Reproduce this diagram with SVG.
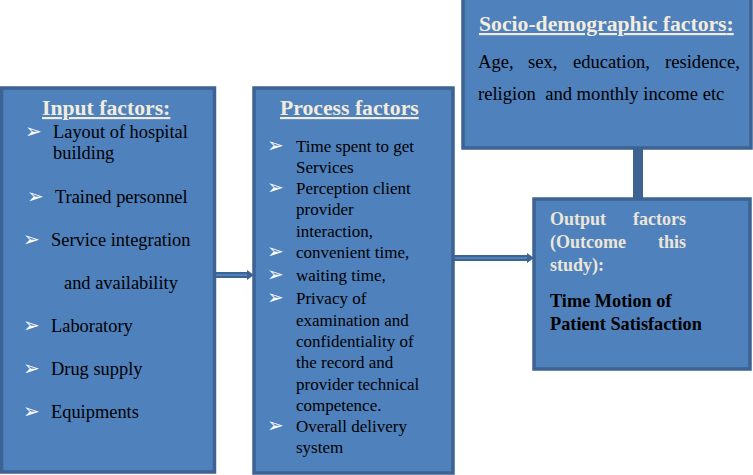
<svg xmlns="http://www.w3.org/2000/svg" width="753" height="475" viewBox="0 0 753 475">
<defs>
<style>
.box{fill:#4f81bd;stroke:#3c6392;stroke-width:3.5}
.title{font-family:"Liberation Serif",serif;font-weight:bold;font-size:21.7px;fill:#f3ecdc;text-decoration:underline}
.t{font-family:"Liberation Serif",serif;font-size:17px;fill:#000}
.ti{font-family:"Liberation Serif",serif;font-size:18.4px;fill:#000}
.ts{font-family:"Liberation Serif",serif;font-size:18.6px;fill:#000}
.ob{font-family:"Liberation Serif",serif;font-weight:bold;font-size:18px;fill:#ece6d8}
.bb{font-family:"Liberation Serif",serif;font-weight:bold;font-size:18.3px;fill:#000}
.bul{font-family:"DejaVu Sans",sans-serif;font-size:20px;fill:#fff}
.lo{fill:none;stroke:#3c6392;stroke-width:6}
.li{fill:none;stroke:#4f81bd;stroke-width:2}
</style>
</defs>
<g id="connectors">
<rect x="633" y="148" width="10" height="52" fill="#3c6392"/>
<path class="lo" d="M214 275 H249"/>
<path class="li" d="M214 275 H249"/>
<polygon points="247,270 254,275 247,280" fill="#3c6392"/>
<path class="lo" d="M453 258 H529"/>
<path class="li" d="M453 258 H529"/>
<polygon points="527,253 534,258 527,263" fill="#3c6392"/>
</g>
<g id="input">
<rect class="box" x="1.5" y="88" width="213" height="384"/>
<text class="title" x="42" y="115">Input factors<tspan style="text-decoration:none">:</tspan></text>
<text class="bul" x="25" y="138">➢</text>
<text class="ti" x="53" y="138">Layout of hospital</text>
<text class="ti" x="53" y="159">building</text>
<text class="bul" x="27" y="203">➢</text>
<text class="ti" x="55" y="203">Trained personnel</text>
<text class="bul" x="23" y="246">➢</text>
<text class="ti" x="51" y="246">Service integration</text>
<text class="ti" x="64" y="289">and availability</text>
<text class="bul" x="23" y="332">➢</text>
<text class="ti" x="51" y="332">Laboratory</text>
<text class="bul" x="23" y="375">➢</text>
<text class="ti" x="51" y="375">Drug supply</text>
<text class="bul" x="23" y="418">➢</text>
<text class="ti" x="51" y="418">Equipments</text>
</g>
<g id="process">
<rect class="box" x="254" y="88" width="199" height="385"/>
<text class="title" x="280" y="115">Process factors</text>
<text class="bul" x="267" y="152">➢</text>
<text class="t" x="296" y="152">Time spent to get</text>
<text class="t" x="296" y="173">Services</text>
<text class="bul" x="267" y="194">➢</text>
<text class="t" x="296" y="194">Perception client</text>
<text class="t" x="296" y="215">provider</text>
<text class="t" x="296" y="237">interaction,</text>
<text class="bul" x="267" y="258">➢</text>
<text class="t" x="296" y="258">convenient time,</text>
<text class="bul" x="267" y="281">➢</text>
<text class="t" x="296" y="281">waiting time,</text>
<text class="bul" x="267" y="304">➢</text>
<text class="t" x="296" y="304">Privacy of</text>
<text class="t" x="296" y="326">examination and</text>
<text class="t" x="296" y="347">confidentiality of</text>
<text class="t" x="296" y="368">the record and</text>
<text class="t" x="296" y="390">provider technical</text>
<text class="t" x="296" y="411">competence.</text>
<text class="bul" x="267" y="432">➢</text>
<text class="t" x="296" y="432">Overall delivery</text>
<text class="t" x="296" y="453">system</text>
</g>
<g id="socio">
<rect class="box" x="463" y="-2" width="288" height="150"/>
<text class="title" x="479" y="31">Socio-demographic factors<tspan style="text-decoration:none">:</tspan></text>
<text class="ts" y="68"><tspan x="478">Age,</tspan><tspan x="528">sex,</tspan><tspan x="573">education,</tspan><tspan x="665">residence,</tspan></text>
<text class="ts" x="478" y="100" xml:space="preserve">religion  and monthly income etc</text>
</g>
<g id="output">
<rect class="box" x="534" y="199" width="216" height="170"/>
<text class="ob" y="225"><tspan x="550">Output</tspan><tspan x="633">factors</tspan></text>
<text class="ob" y="248"><tspan x="550">(Outcome</tspan><tspan x="658">this</tspan></text>
<text class="ob" x="550" y="271">study):</text>
<text class="bb" x="550" y="307">Time Motion of</text>
<text class="bb" x="550" y="330">Patient Satisfaction</text>
</g>
</svg>
